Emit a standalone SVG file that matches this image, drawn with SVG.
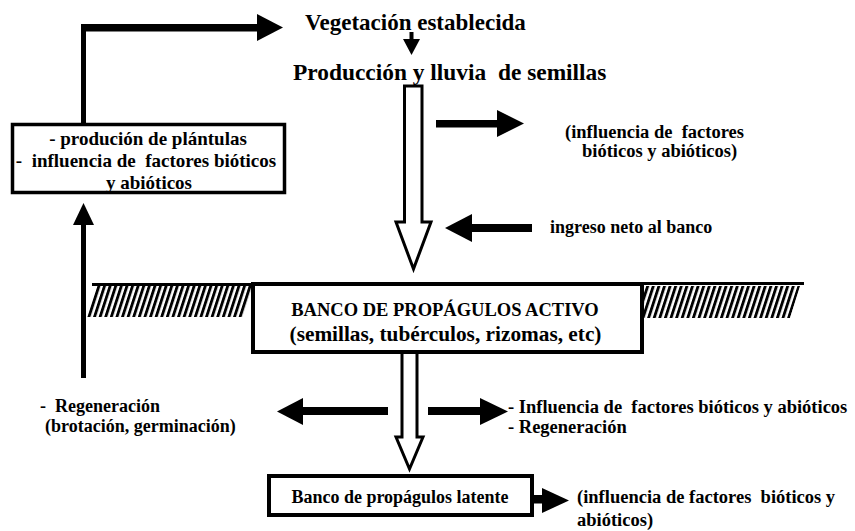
<svg xmlns="http://www.w3.org/2000/svg" width="855" height="531" viewBox="0 0 855 531">
<style>
text{font-family:'Liberation Serif','DejaVu Serif',serif;font-weight:700;fill:#000;white-space:pre}
.s18{font-size:18px}
.s185{font-size:18.5px}
.s19{font-size:19px}
.big{font-size:23px}
.box{fill:#fff;stroke:#000;stroke-width:4}
.solid{fill:#000;stroke:none}
.hollow{fill:#fff;stroke:#000;stroke-width:3;stroke-linejoin:miter}
.ground{stroke:#000;stroke-width:3;fill:none}
</style>
<defs>
<pattern id="hatch" patternUnits="userSpaceOnUse" width="5.6" height="40" patternTransform="skewX(-18)">
<rect x="0" y="0" width="3" height="40" fill="#000"/>
</pattern>
</defs>
<rect width="855" height="531" fill="#fff"/>

<g id="ground">
<polygon points="86,317 96,286 253,286 243,317" fill="url(#hatch)"/>
<polygon points="644,318 644,286 800,286 790,318" fill="url(#hatch)"/>
<line class="ground" x1="92" y1="284.5" x2="253" y2="284.5"/>
<line class="ground" x1="642" y1="283.5" x2="804" y2="283.5"/>
</g>

<g id="connectors">
<rect class="solid" x="81" y="24" width="5" height="101"/>
<rect class="solid" x="81" y="24" width="177" height="7.5"/>
<polygon class="solid" points="257,14 283,27.5 257,41"/>
<rect class="solid" x="81" y="224" width="5" height="154"/>
<polygon class="solid" points="73,225 83.5,203 94,225"/>
<rect class="solid" x="409.5" y="32" width="4" height="8"/>
<polygon class="solid" points="403,39 420,39 411.5,55"/>
<polygon class="hollow" points="404.5,86 422,86 422,222 431,222 413.5,269 396,222 404.5,222"/>
<rect class="solid" x="436" y="120" width="62" height="7.5"/>
<polygon class="solid" points="497,110 524,123.5 497,137"/>
<rect class="solid" x="471" y="224" width="61" height="8"/>
<polygon class="solid" points="472,214 445,228 472,242"/>
<polygon class="hollow" points="402,352 417,352 417,437 423,437 409.5,469 396,437 402,437"/>
<rect class="solid" x="302" y="407" width="86" height="8"/>
<polygon class="solid" points="303,398 277,411.5 303,425"/>
<rect class="solid" x="428" y="407" width="53" height="8"/>
<polygon class="solid" points="480,398 508,411.5 480,425"/>
<rect class="solid" x="531" y="495" width="12" height="8.5"/>
<polygon class="solid" points="542,488 569,500.5 542,513"/>
</g>

<g id="vegetacion">
<text class="big" x="305" y="30" font-family="Liberation Serif">Vegetación establecida</text>
</g>

<g id="produccion">
<text class="big" x="293" y="80" font-family="Liberation Serif" style="font-size:23.4px">Producción y lluvia  de semillas</text>
</g>

<g id="plantulas">
<rect class="box" x="12.5" y="124.5" width="272" height="68" style="stroke-width:3.5"/>
<text class="s19" x="148" y="145" text-anchor="middle">- produción de plántulas</text>
<text class="s19" x="146" y="167" text-anchor="middle">-  influencia de  factores bióticos</text>
<text class="s19" x="149" y="189" text-anchor="middle">y abióticos</text>
</g>

<g id="influencia-top">
<text class="s185" x="565" y="138">(influencia de  factores</text>
<text class="s185" x="582" y="157">bióticos y abióticos)</text>
</g>

<g id="ingreso">
<text class="s18" x="550" y="233">ingreso neto al banco</text>
</g>

<g id="banco-activo">
<rect class="box" x="253" y="284" width="389" height="68"/>
<text x="445" y="316" text-anchor="middle" style="font-size:18.5px">BANCO DE PROPÁGULOS ACTIVO</text>
<text x="445.5" y="341" text-anchor="middle" style="font-size:21.3px">(semillas, tubérculos, rizomas, etc)</text>
</g>

<g id="regeneracion-left">
<text class="s18" x="40" y="412">-  Regeneración</text>
<text class="s18" x="45" y="432">(brotación, germinación)</text>
</g>

<g id="influencia-mid">
<text class="s185" x="508" y="413">- Influencia de  factores bióticos y abióticos</text>
<text class="s185" x="508" y="433">- Regeneración</text>
</g>

<g id="banco-latente">
<rect class="box" x="269" y="476" width="263" height="39"/>
<text class="s18" x="400" y="503" text-anchor="middle">Banco de propágulos latente</text>
</g>

<g id="influencia-bottom">
<text class="s185" x="577" y="503">(influencia de factores  bióticos y</text>
<text class="s185" x="577" y="526">abióticos)</text>
</g>
</svg>
